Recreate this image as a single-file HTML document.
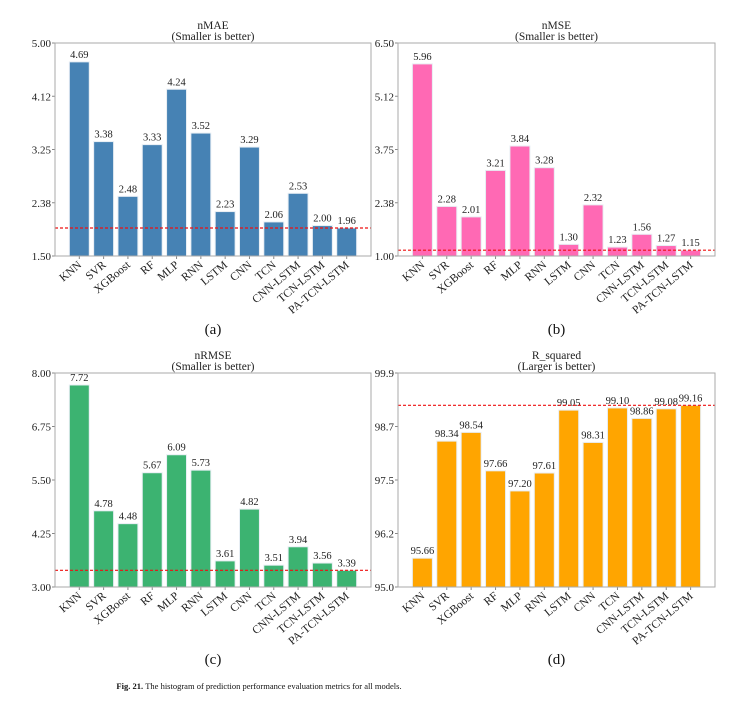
<!DOCTYPE html>
<html><head><meta charset="utf-8"><style>
body{margin:0;background:#fff;width:756px;height:706px;overflow:hidden;font-family:"Liberation Serif",serif;}
svg{position:absolute;left:0;top:0;}
</style></head><body>
<svg id="fig" width="756" height="706" font-family="Liberation Serif, serif"></svg>
<script>
const categories=["KNN","SVR","XGBoost","RF","MLP","RNN","LSTM","CNN","TCN","CNN-LSTM","TCN-LSTM","PA-TCN-LSTM"];
const nmaeValues=[4.69,3.38,2.48,3.33,4.24,3.52,2.23,3.29,2.06,2.53,2.00,1.96];
const nmseValues=[5.96,2.28,2.01,3.21,3.84,3.28,1.30,2.32,1.23,1.56,1.27,1.15];
const nrmseValues=[7.72,4.78,4.48,5.67,6.09,5.73,3.61,4.82,3.51,3.94,3.56,3.39];
const r2Values=[95.66,98.34,98.54,97.66,97.20,97.61,99.05,98.31,99.10,98.86,99.08,99.16];
const nmaeTicks=["1.50","2.38","3.25","4.12","5.00"];
const nmseTicks=["1.00","2.38","3.75","5.12","6.50"];
const nrmseTicks=["3.00","4.25","5.50","6.75","8.00"];
const r2Ticks=["95.0","96.2","97.5","98.7","99.9"];
const NS="http://www.w3.org/2000/svg";
const svg=document.getElementById('fig');
function mk(tag,attrs,parent,text){const e=document.createElementNS(NS,tag);for(const k in attrs)e.setAttribute(k,attrs[k]);if(text!==undefined)e.textContent=text;(parent||svg).appendChild(e);return e;}
function panel(id,x0,y0,w,h,vals,ticks,ymin,ymax,refVal,color,t1,t2,lab,labY){
  const g=mk('g',{});
  
  
  const xs=i=>x0+w*(i+1)/13;
  const ys=v=>y0+h-(v-ymin)/(ymax-ymin)*h;
  const bw=w/13*0.82;
  const tt=mk('text',{x:x0+w/2,y:y0-14,'text-anchor':'middle','font-size':11.5,fill:'#222'},g,t1);
  
  const st=mk('text',{x:x0+w/2,y:y0-3,'text-anchor':'middle','font-size':11.5,fill:'#222'},g,t2);
  
  ticks.forEach((t,i)=>{const v=ymin+(ymax-ymin)*i/(ticks.length-1);const y=ys(v);
    mk('line',{x1:x0-3,x2:x0,y1:y,y2:y,stroke:'#888'},g);
    const tl=mk('text',{x:x0-4,y:y+4,'text-anchor':'end','font-size':11,fill:'#222'},g,t);
    });
  vals.forEach((v,i)=>{const cx=xs(i);const y=ys(v);
    const r=mk('rect',{x:cx-bw/2,y:y,width:bw,height:y0+h-y,fill:color,stroke:'#e8eef4','stroke-width':1},g);
    
    const vl=mk('text',{x:cx,y:y-4,'text-anchor':'middle','font-size':10.5,fill:'#222'},g,v.toFixed(2));
    
    mk('line',{x1:cx,x2:cx,y1:y0+h,y2:y0+h+3,stroke:'#888'},g);
    const cl=mk('text',{x:cx+3,y:y0+h+10,'text-anchor':'end','font-size':11.5,fill:'#222',transform:`rotate(-40 ${cx+3} ${y0+h+10})`},g,categories[i]);
    });
  const ry=ys(refVal);
  const rl=mk('line',{x1:x0,x2:x0+w,y1:ry,y2:ry,stroke:'#ee1111','stroke-width':1.2,'stroke-dasharray':'3,2'},g);
  
  const fr=mk('rect',{x:x0,y:y0,width:w,height:h,fill:'none',stroke:'#aaa','stroke-width':1},g);
  
  const pl=mk('text',{x:x0+w/2,y:labY,'text-anchor':'middle','font-size':15,fill:'#111'},g,lab);
  
}
panel('nmae',55,43,316,213,nmaeValues,nmaeTicks,1.5,5.0,nmaeValues[11],'#4682b4','nMAE','(Smaller is better)','(a)',334);
panel('nmse',398,43,317,213,nmseValues,nmseTicks,1.0,6.5,nmseValues[11],'#ff69b4','nMSE','(Smaller is better)','(b)',334);
panel('nrmse',55,373,316,214,nrmseValues,nrmseTicks,3.0,8.0,nrmseValues[11],'#3cb371','nRMSE','(Smaller is better)','(c)',664);
panel('r2',398,373,317,214,r2Values,r2Ticks,95.0,99.9,r2Values[11],'#ffa500','R_squared','(Larger is better)','(d)',664);
const cap=mk('text',{x:259,y:689,'text-anchor':'middle','font-size':8.5,fill:'#111'});

mk('tspan',{'font-weight':'bold'},cap,'Fig. 21. ');
mk('tspan',{},cap,' The histogram of prediction performance evaluation metrics for all models.');
</script>
</body></html>
